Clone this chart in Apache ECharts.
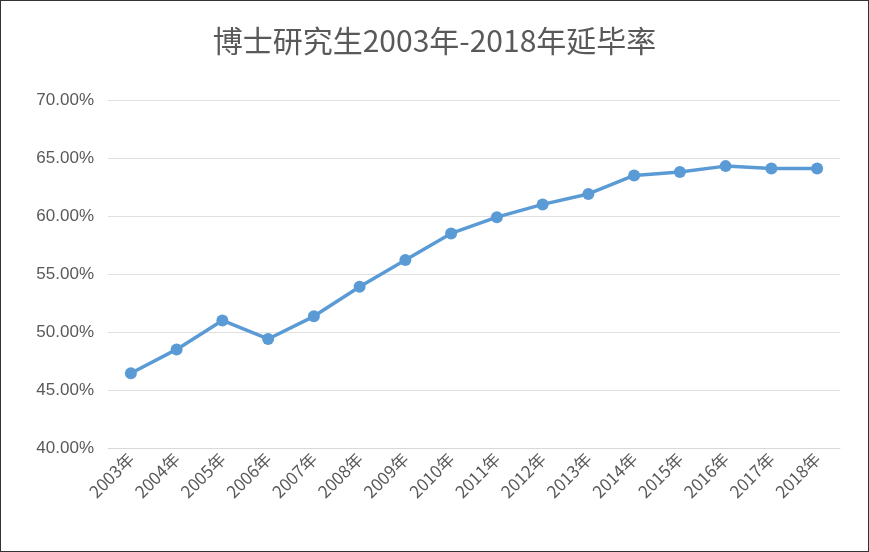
<!DOCTYPE html>
<html><head><meta charset="utf-8">
<script src="https://cdn.jsdelivr.net/npm/echarts@6/dist/echarts.min.js"></script>
<style>html,body{margin:0;padding:0;background:#fff}#c{width:867px;height:550px;border:1px solid #333}</style>
</head><body><div id="c"></div>
<script>
const years = ['2003年','2004年','2005年','2006年','2007年','2008年','2009年','2010年','2011年','2012年','2013年','2014年','2015年','2016年','2017年','2018年'];
const rates = [46.45,48.5,51.0,49.4,51.35,53.9,56.2,58.5,59.9,61.0,61.9,63.5,63.8,64.3,64.1,64.1];
const chart = echarts.init(document.getElementById('c'));
chart.setOption({
  title:{text:'博士研究生2003年-2018年延毕率',left:'center',top:20,textStyle:{fontSize:30,fontWeight:'normal',color:'#595959',fontFamily:'Noto Sans CJK SC'}},
  grid:{left:107,right:28,top:99,bottom:103},
  xAxis:{type:'category',data:years,boundaryGap:true,
    axisLine:{lineStyle:{color:'#d9d9d9'}},axisTick:{show:false},
    axisLabel:{rotate:45,color:'#595959',fontSize:17,fontFamily:'Noto Sans CJK SC',interval:0,margin:8}},
  yAxis:{type:'value',min:40,max:70,interval:5,
    axisLine:{show:false},axisTick:{show:false},
    splitLine:{lineStyle:{color:'#e0e0e0'}},
    axisLabel:{formatter:v=>v.toFixed(2)+'%',color:'#595959',fontSize:17,fontFamily:'Liberation Sans',margin:14}},
  series:[{type:'line',data:rates,symbol:'circle',symbolSize:12,
    lineStyle:{color:'#5b9bd5',width:3.5},itemStyle:{color:'#5b9bd5'}}]
});
</script></body></html>
